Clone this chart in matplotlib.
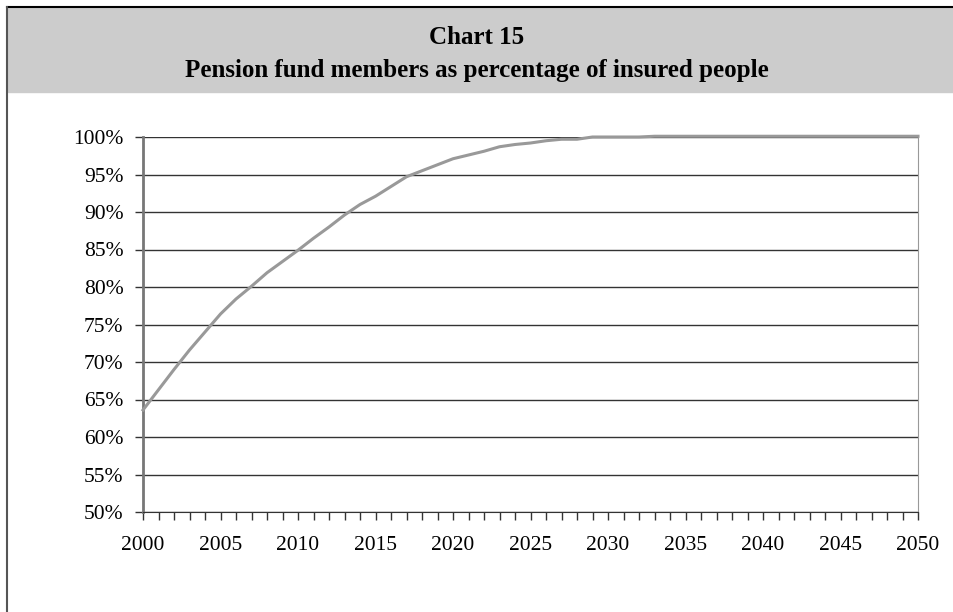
import matplotlib.pyplot as plt
from matplotlib.ticker import MultipleLocator, FuncFormatter
from matplotlib.patches import Rectangle
from matplotlib.lines import Line2D

# Pension fund members / insured people, yearly projection
years = list(range(2000, 2051))
share = [63.6, 66.3, 69.0, 71.6, 74.0, 76.4, 78.4, 80.1, 81.9, 83.4,
         84.9, 86.5, 88.0, 89.6, 91.0, 92.1, 93.4, 94.7, 95.5, 96.3,
         97.1, 97.6, 98.1, 98.7, 99.0, 99.2, 99.5, 99.7, 99.7, 100.0,
         100.0, 100.0, 100.0, 100.1, 100.1, 100.1, 100.1, 100.1, 100.1, 100.1,
         100.1, 100.1, 100.1, 100.1, 100.1, 100.1, 100.1, 100.1, 100.1, 100.1,
         100.1]

title_lines = ["Chart 15", "Pension fund members as percentage of insured people"]

plt.rcParams['font.family'] = ['Liberation Serif', 'DejaVu Serif']

W, H = 954, 612
fig = plt.figure(figsize=(W / 100, H / 100), dpi=100)

# header band and frame
fig.patches.append(Rectangle((8 / W, 1 - 92 / H), 1 - 8 / W, 85 / H,
                             transform=fig.transFigure, color="#cccccc", zorder=0))
fig.lines.append(Line2D([7 / W, 1], [1 - 7 / H, 1 - 7 / H], transform=fig.transFigure,
                        color="black", lw=1.5))
fig.lines.append(Line2D([7.5 / W, 7.5 / W], [0, 1 - 7 / H], transform=fig.transFigure,
                        color="#555555", lw=1.5))

fig.text(0.5, 1 - 38 / H, title_lines[0], ha="center", va="center",
         fontsize=18, fontweight="bold")
fig.text(0.5, 1 - 70 / H, title_lines[1], ha="center", va="center",
         fontsize=18, fontweight="bold")

ax = fig.add_axes([143 / W, 1 - 512 / H, (918 - 143) / W, (512 - 137) / H])
ax.plot(years, share, color="#999999", lw=2.2, clip_on=False, zorder=3)

ax.set_xlim(2000, 2050)
ax.set_ylim(50, 100)
ax.xaxis.set_major_locator(MultipleLocator(5))
ax.xaxis.set_minor_locator(MultipleLocator(1))
ax.yaxis.set_major_locator(MultipleLocator(5))
ax.yaxis.set_major_formatter(FuncFormatter(lambda v, p: f"{v:.0f}%"))
ax.grid(axis="y", color="#333333", lw=1)
ax.set_axisbelow(True)

ax.spines["left"].set_color("#777777")
ax.spines["left"].set_linewidth(2)
ax.spines["right"].set_color("#999999")
ax.spines["top"].set_visible(False)
ax.spines["bottom"].set_color("#333333")
ax.tick_params(axis="x", which="both", direction="out", length=6, width=1,
               color="#333333", labelsize=15.5, pad=11)
ax.tick_params(axis="y", direction="out", length=6, width=1, color="#333333",
               labelsize=15.5, pad=8)

fig.savefig("out.png", dpi=100)
